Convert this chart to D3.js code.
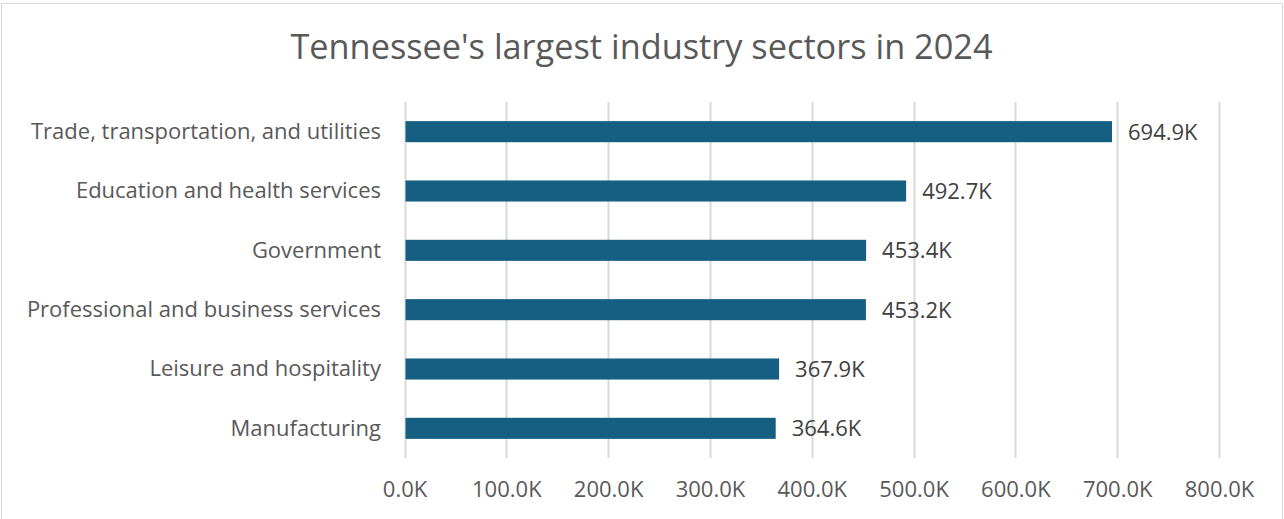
<!DOCTYPE html>
<html><head><meta charset="utf-8">
<script src="https://cdn.jsdelivr.net/npm/d3@7"></script>
<style>
  html, body { margin: 0; padding: 0; background: #fff; }
  svg text { font-family: "Open Sans", sans-serif; fill: #595959; }
</style>
</head>
<body>
<svg id="chart" width="1284" height="519"></svg>
<script>
// Employment by sector, thousands of jobs
const sectors = [
  "Trade, transportation, and utilities",
  "Education and health services",
  "Government",
  "Professional and business services",
  "Leisure and hospitality",
  "Manufacturing"
];
const jobs = [694.9, 492.7, 453.4, 453.2, 367.9, 364.6];
const tickValues = [0, 100, 200, 300, 400, 500, 600, 700, 800];
const title = "Tennessee's largest industry sectors in 2024";

const fmtK = v => v.toFixed(1) + "K";

const svg = d3.select("#chart");

// chart frame
svg.append("rect")
  .attr("x", 1.5).attr("y", 3.5)
  .attr("width", 1281).attr("height", 530)
  .attr("fill", "#fff").attr("stroke", "#d9d9d9").attr("stroke-width", 1);

const plot = { left: 404.5, right: 1219, top: 102, bottom: 458 };

const x = d3.scaleLinear().domain([0, 800]).range([plot.left, plot.right]);
const y = d3.scaleBand().domain(sectors).range([plot.top, plot.bottom])
  .paddingInner(0.645).paddingOuter(0.3225);

// vertical gridlines
svg.append("g")
  .selectAll("line").data(tickValues).join("line")
  .attr("x1", d => Math.round(x(d)) + 0.5).attr("x2", d => Math.round(x(d)) + 0.5)
  .attr("y1", plot.top).attr("y2", plot.bottom)
  .attr("stroke", "#d9d9d9").attr("stroke-width", 2);

// x-axis tick labels
const xAxis = d3.axisBottom(x).tickValues(tickValues).tickFormat(fmtK).tickSize(0).tickPadding(0);
const ax = svg.append("g").attr("transform", `translate(0,${plot.bottom})`).call(xAxis);
ax.select(".domain").remove();
ax.selectAll("text")
  .attr("y", 39).attr("dy", null)
  .attr("font-size", 22)
  .style("font-family", "'Open Sans', sans-serif")
  .attr("fill", "#595959");

// category labels
const yAxis = d3.axisLeft(y).tickSize(0).tickPadding(0);
const ay = svg.append("g").attr("transform", `translate(381,0)`).call(yAxis);
ay.select(".domain").remove();
ay.selectAll("text")
  .attr("x", 0).attr("dy", "0.33em")
  .attr("font-size", 22)
  .style("font-family", "'Open Sans', sans-serif")
  .attr("fill", "#595959");

// bars
const rows = sectors.map((s, i) => ({ sector: s, value: jobs[i] }));
svg.append("g")
  .selectAll("rect").data(rows).join("rect")
  .attr("x", x(0) + 1)
  .attr("y", d => y(d.sector))
  .attr("width", d => x(d.value) - x(0) - 1)
  .attr("height", y.bandwidth())
  .attr("fill", "#156082");

// value labels
svg.append("g")
  .selectAll("text").data(rows).join("text")
  .attr("x", d => x(d.value) + 16)
  .attr("y", d => y(d.sector) + y.bandwidth() / 2)
  .attr("dy", "0.36em")
  .attr("font-size", 22)
  .style("fill", "#404040")
  .text(d => fmtK(d.value));

// title
svg.append("text")
  .attr("x", 641.5).attr("y", 59)
  .attr("text-anchor", "middle")
  .attr("font-size", 34.3)
  .text(title);
</script>
</body></html>
